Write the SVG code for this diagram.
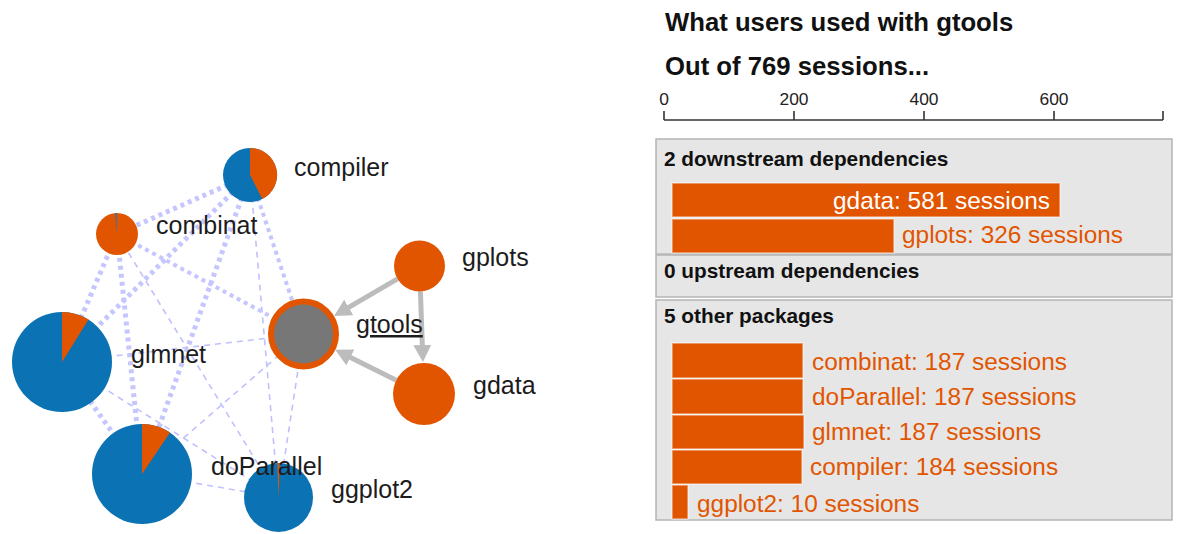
<svg xmlns="http://www.w3.org/2000/svg" width="1188" height="534" viewBox="0 0 1188 534">
  <defs>
    <style>
      .lbl { font-family: "Liberation Sans", Arial, sans-serif; font-size: 25px; fill: #1c1c1c; }
      .thick { stroke: #c6c6ff; stroke-width: 5; stroke-dasharray: 4 4; fill: none; }
      .mid { stroke: #c6c6ff; stroke-width: 4; stroke-dasharray: 4 4; fill: none; }
      .thin { stroke: #c0c0ff; stroke-width: 1.6; stroke-dasharray: 6 5; fill: none; }
      .dep { stroke: #bcbcbc; stroke-width: 5; fill: none; marker-end: url(#head); }
      .blue { fill: #0b72b3; }
      .orange { fill: #e25500; }
      .title { font-family: "Liberation Sans", Arial, sans-serif; font-weight: bold; font-size: 25.7px; fill: #111; }
      .head { font-family: "Liberation Sans", Arial, sans-serif; font-weight: bold; font-size: 20.8px; fill: #111; }
      .tick { font-family: "Liberation Sans", Arial, sans-serif; font-size: 17.4px; fill: #222; text-anchor: middle; }
      .panel { fill: #e6e6e6; stroke: #b4b4b4; stroke-width: 1.5; }
      .bar { fill: #e25500; stroke: #ffffff; stroke-opacity: 0.5; stroke-width: 1.5; }
      .barlbl { font-family: "Liberation Sans", Arial, sans-serif; font-size: 24.4px; fill: #e25500; }
    </style>
    <marker id="head" markerUnits="userSpaceOnUse" markerWidth="18" markerHeight="18" refX="5" refY="9" orient="auto">
      <path d="M0,0 L17,9 L0,18 Z" fill="#bcbcbc"/>
    </marker>
  </defs>

  <!-- co-usage links between packages -->
  <g id="links">
    <line class="thin" x1="250" y1="175" x2="278.5" y2="497.5"/>
    <line class="thin" x1="117" y1="234" x2="278.5" y2="497.5"/>
    <line class="thin" x1="62" y1="362" x2="278.5" y2="497.5"/>
    <line class="thin" x1="62" y1="362" x2="303.5" y2="334"/>
    <line class="thin" x1="142" y1="474" x2="278.5" y2="497.5"/>
    <line class="thin" x1="142" y1="474" x2="303.5" y2="334"/>
    <line class="thin" x1="278.5" y1="497.5" x2="303.5" y2="334"/>
    <line class="mid" x1="250" y1="175" x2="303.5" y2="334"/>
    <line class="mid" x1="117" y1="234" x2="303.5" y2="334"/>
    <line class="thick" x1="250" y1="175" x2="117" y2="234"/>
    <line class="thick" x1="250" y1="175" x2="62" y2="362"/>
    <line class="thick" x1="250" y1="175" x2="142" y2="474"/>
    <line class="thick" x1="117" y1="234" x2="62" y2="362"/>
    <line class="thick" x1="117" y1="234" x2="142" y2="474"/>
    <line class="thick" x1="62" y1="362" x2="142" y2="474"/>
    <!-- dependency arrows -->
    <line class="dep" x1="397.5" y1="278.9" x2="344.4" y2="309.9"/>
    <line class="dep" x1="420.4" y1="291.5" x2="422.5" y2="350"/>
    <line class="dep" x1="396.3" y1="380.2" x2="346" y2="355.2"/>
  </g>

  <!-- package nodes (pie = share of sessions) -->
  <g id="node-compiler">
    <circle class="blue" cx="250" cy="175" r="27"/>
    <path class="orange" d="M250,175 L250,148 A27,27 0 0 1 262.3,199.1 Z"/>
    <text class="lbl" x="294" y="176">compiler</text>
  </g>
  <g id="node-combinat">
    <circle class="orange" cx="117" cy="234" r="21"/>
    <path d="M117,234 L114.8,213.1 A21,21 0 0 1 117,213 Z" fill="#4c6f96"/>
    <text class="lbl" x="156" y="234">combinat</text>
  </g>
  <g id="node-glmnet">
    <circle class="blue" cx="62" cy="362" r="50"/>
    <path class="orange" d="M62,362 L62,312 A50,50 0 0 1 88.5,319.6 Z"/>
    <text class="lbl" x="131" y="363">glmnet</text>
  </g>
  <g id="node-ggplot2">
    <circle class="blue" cx="278.5" cy="497.5" r="34.5"/>
    <path class="orange" d="M278.5,497.5 L277.3,463 A34.5,34.5 0 0 1 279.7,463 Z"/>
    <text class="lbl" x="331" y="498">ggplot2</text>
  </g>
  <g id="node-doParallel">
    <circle class="blue" cx="142" cy="474" r="50"/>
    <path class="orange" d="M142,474 L142,424 A50,50 0 0 1 170,432.5 Z"/>
    <text class="lbl" x="211" y="475">doParallel</text>
  </g>
  <g id="node-gtools">
    <circle cx="303.5" cy="334" r="32.5" fill="#777777" stroke="#e25500" stroke-width="6"/>
    <text class="lbl" x="356" y="333" text-decoration="underline">gtools</text>
  </g>
  <g id="node-gplots">
    <circle class="orange" cx="419.5" cy="266" r="25.5"/>
    <text class="lbl" x="462" y="266">gplots</text>
  </g>
  <g id="node-gdata">
    <circle class="orange" cx="424" cy="394" r="31"/>
    <text class="lbl" x="473" y="394">gdata</text>
  </g>

  <!-- session chart -->
  <g id="chart">
    <text class="title" x="665" y="31">What users used with gtools</text>
    <text class="title" x="665" y="75">Out of 769 sessions...</text>

    <g id="axis" stroke="#333" stroke-width="1.6" fill="none">
      <line x1="664" y1="120" x2="1163" y2="120"/>
      <line x1="664" y1="111" x2="664" y2="120"/>
      <line x1="794" y1="111" x2="794" y2="120"/>
      <line x1="924" y1="111" x2="924" y2="120"/>
      <line x1="1054" y1="111" x2="1054" y2="120"/>
      <line x1="1163" y1="111" x2="1163" y2="120"/>
    </g>
    <text class="tick" x="664" y="105">0</text>
    <text class="tick" x="794" y="105">200</text>
    <text class="tick" x="924" y="105">400</text>
    <text class="tick" x="1054" y="105">600</text>

    <g id="panel-downstream">
      <rect class="panel" x="656" y="139" width="516" height="115"/>
      <text class="head" x="664" y="166">2 downstream dependencies</text>
      <rect class="bar" x="672" y="183" width="388" height="34"/>
      <text class="barlbl" x="1050" y="209" text-anchor="end" style="fill:#ffffff">gdata: 581 sessions</text>
      <rect class="bar" x="672" y="219" width="222" height="34"/>
      <text class="barlbl" x="902" y="243">gplots: 326 sessions</text>
    </g>

    <g id="panel-upstream">
      <rect class="panel" x="656" y="255" width="516" height="42"/>
      <text class="head" x="664" y="278">0 upstream dependencies</text>
    </g>

    <g id="panel-other">
      <rect class="panel" x="656" y="300" width="516" height="220"/>
      <text class="head" x="664" y="323">5 other packages</text>
      <rect class="bar" x="672" y="343" width="131" height="35"/>
      <text class="barlbl" x="812" y="370">combinat: 187 sessions</text>
      <rect class="bar" x="672" y="379" width="131" height="35"/>
      <text class="barlbl" x="812" y="405">doParallel: 187 sessions</text>
      <rect class="bar" x="672" y="415" width="132" height="34"/>
      <text class="barlbl" x="812" y="440">glmnet: 187 sessions</text>
      <rect class="bar" x="672" y="450" width="130" height="34"/>
      <text class="barlbl" x="810" y="475">compiler: 184 sessions</text>
      <rect class="bar" x="672" y="485" width="16" height="34"/>
      <text class="barlbl" x="697" y="512">ggplot2: 10 sessions</text>
    </g>
  </g>
</svg>
